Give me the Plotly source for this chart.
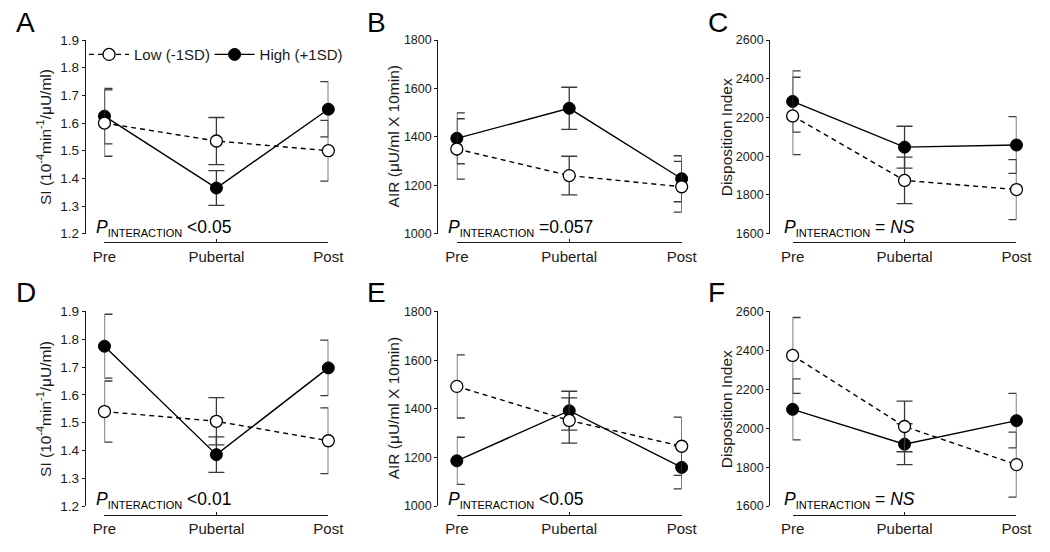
import plotly.graph_objects as go

# ---------------- data ----------------
categories = ["Pre", "Pubertal", "Post"]
series_names = ["Low (-1SD)", "High (+1SD)"]

# Panel A: SI, row 1
a_low = [1.60, 1.535, 1.50]
a_low_err = [0.12, 0.085, 0.11]
a_high = [1.625, 1.365, 1.65]
a_high_err = [0.10, 0.063, 0.10]

# Panel B: AIR, row 1
b_low = [1350, 1240, 1194]
b_low_err = [125, 80, 105]
b_high = [1394, 1518, 1227]
b_high_err = [105, 87, 95]

# Panel C: Disposition index, row 1
c_low = [2208, 1875, 1828]
c_low_err = [200, 120, 155]
c_high = [2283, 2047, 2058]
c_high_err = [158, 108, 147]

# Panel D: SI, row 2
d_low = [1.54, 1.505, 1.435]
d_low_err = [0.11, 0.085, 0.118]
d_high = [1.775, 1.385, 1.697]
d_high_err = [0.115, 0.064, 0.10]

# Panel E: AIR, row 2
e_low = [1492, 1352, 1246]
e_low_err = [130, 93, 120]
e_high = [1186, 1392, 1159]
e_high_err = [97, 80, 88]

# Panel F: Disposition index, row 2
f_low = [2374, 2009, 1813]
f_low_err = [195, 130, 167]
f_high = [2097, 1918, 2039]
f_high_err = [157, 105, 140]

panel_letters = ["A", "B", "C", "D", "E", "F"]
p_texts = [" &lt;0.05", " =0.057", " = <i>NS</i>", " &lt;0.01", " &lt;0.05", " = <i>NS</i>"]
y_titles = ["SI (10<sup>-4</sup>min<sup>-1</sup>/μU/ml)", "AIR (μU/ml X 10min)", "Disposition Index"]
y_ranges = [[1.2, 1.9], [1000, 1800], [1600, 2600]]
y_dticks = [0.1, 200, 200]
y_formats = [".1f", "d", "d"]

panels = [
    (a_low, a_low_err, a_high, a_high_err),
    (b_low, b_low_err, b_high, b_high_err),
    (c_low, c_low_err, c_high, c_high_err),
    (d_low, d_low_err, d_high, d_high_err),
    (e_low, e_low_err, e_high, e_high_err),
    (f_low, f_low_err, f_high, f_high_err),
]

# ---------------- layout geometry (pixels) ----------------
W, H = 1050, 552
FONT = "Liberation Sans, Arial, sans-serif"
cols = [dict(yax=75, pre=95, post=325, title_x=33, letter_x=2, p_x=84),
        dict(yax=437, pre=457, post=688, title_x=392, letter_x=363, p_x=446),
        dict(yax=778, pre=802, post=1032, title_x=734, letter_x=713, p_x=791)]
rows = [dict(top=34, bottom=233, xline=242, letter_y=16),
        dict(top=313, bottom=513, xline=522, letter_y=293)]

def px(x):
    return x / W

def py(y):
    return 1 - y / H

legend_common = dict(orientation="h", yanchor="middle", xanchor="left",
                     font=dict(size=15, family=FONT, color="#1a1a1a"),
                     bgcolor="rgba(0,0,0,0)", itemwidth=40, tracegroupgap=0)

fig = go.Figure()
layout = dict(
    width=W, height=H,
    margin=dict(l=0, r=0, t=0, b=0),
    paper_bgcolor="white", plot_bgcolor="rgba(0,0,0,0)",
    font=dict(family=FONT, color="#1a1a1a"),
    showlegend=True,
    legend=dict(x=px(74), y=py(49), **legend_common),
    legend2=dict(x=px(203), y=py(49), **legend_common),
)
annotations = []

for i, (lo, lo_e, hi, hi_e) in enumerate(panels):
    r, c = divmod(i, 3)
    col, row = cols[c], rows[r]
    n = i + 1
    xa = "x" if n == 1 else f"x{n}"
    ya = "y" if n == 1 else f"y{n}"
    xkey = "xaxis" if n == 1 else f"xaxis{n}"
    ykey = "yaxis" if n == 1 else f"yaxis{n}"

    layout[xkey] = dict(
        domain=[px(col["pre"]), px(col["post"])], range=[0, 2],
        anchor="free", position=py(row["xline"]),
        showline=True, linecolor="#1a1a1a", linewidth=1.3,
        ticks="inside", ticklen=3, tickcolor="#1a1a1a", tickwidth=1.2,
        tickvals=[0, 1, 2], ticktext=categories,
        tickfont=dict(size=15, family=FONT, color="#1a1a1a"),
        showgrid=False, zeroline=False, fixedrange=True,
    )
    layout[ykey] = dict(
        domain=[py(row["bottom"]), py(row["top"])], range=y_ranges[c],
        anchor="free", position=px(col["yax"]),
        showline=True, linecolor="#1a1a1a", linewidth=1.3,
        ticks="outside", ticklen=3, tickcolor="#1a1a1a", tickwidth=1.2,
        dtick=y_dticks[c], tick0=y_ranges[c][0], tickformat=y_formats[c],
        tickfont=dict(size=13.5 if c == 0 else 12.5, family=FONT, color="#1a1a1a"),
        showgrid=False, zeroline=False, fixedrange=True,
    )

    xs = [0, 1, 2]
    fig.add_trace(go.Scatter(
        x=xs, y=hi, xaxis=xa, yaxis=ya, mode="lines+markers",
        name=series_names[1], legend="legend2", showlegend=(i == 0),
        line=dict(color="black", width=1.4),
        marker=dict(symbol="circle", size=12, color="black", line=dict(color="black", width=1)),
        error_y=dict(type="data", array=hi_e, visible=True, color="#3a3a3a", thickness=1.3, width=8),
        cliponaxis=False,
    ))
    fig.add_trace(go.Scatter(
        x=xs, y=lo, xaxis=xa, yaxis=ya, mode="lines+markers",
        name=series_names[0], legend="legend", showlegend=(i == 0),
        line=dict(color="black", width=1.4, dash="5px,4px"),
        marker=dict(symbol="circle", size=12, color="white", line=dict(color="black", width=1.3)),
        error_y=dict(type="data", array=lo_e, visible=True, color="#3a3a3a", thickness=1.3, width=8),
        cliponaxis=False,
    ))

    # panel letter
    annotations.append(dict(text=panel_letters[i], xref="paper", yref="paper",
                            x=px(col["letter_x"]), y=py(row["letter_y"]),
                            xanchor="left", yanchor="middle", showarrow=False,
                            font=dict(size=28, family=FONT, color="black")))
    # y title
    annotations.append(dict(text=y_titles[c], xref="paper", yref="paper",
                            x=px(col["title_x"]), y=py((row["top"] + row["bottom"]) / 2),
                            xanchor="center", yanchor="middle", textangle=-90, showarrow=False,
                            font=dict(size=15.5, family=FONT, color="#1a1a1a")))
    # P interaction
    annotations.append(dict(text="<i>P</i><sub><span style='font-size:11px'>INTERACTION</span></sub>" + p_texts[i],
                            xref="paper", yref="paper",
                            x=px(col["p_x"]), y=py(row["bottom"] - 6),
                            xanchor="left", yanchor="middle", showarrow=False,
                            font=dict(size=17.5, family=FONT, color="black")))

layout["annotations"] = annotations
fig.update_layout(**layout)
fig.write_html("out.html", config={"displayModeBar": False},
               post_script="document.body.style.margin='0';document.body.style.overflow='hidden';")
